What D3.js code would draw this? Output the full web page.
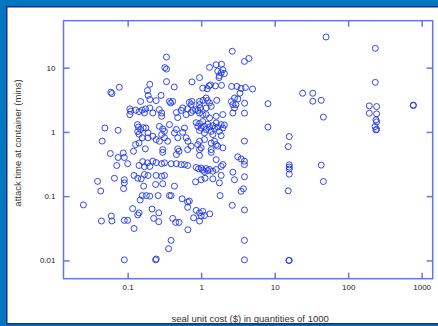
<!DOCTYPE html>
<html>
<head>
<meta charset="utf-8">
<script src="https://cdn.jsdelivr.net/npm/d3@7"></script>
<style>
  html, body { margin: 0; padding: 0; background: #0077be; }
  #chart { width: 438px; height: 326px; }
</style>
</head>
<body>
<div id="chart"></div>
<script>
const elem = "#chart"

const width = 438
const height = 326

// seal unit cost ($, quantities of 1000) and attack time (mins)
const sealCost = [
  2.65, 0.338, 3.88, 4.45, 0.32, 0.338, 1.30, 1.60, 1.89, 1.68, 1.87, 1.97, 1.77, 2.07, 1.75,
  0.338, 0.43, 0.75, 0.95, 1.28, 1.34, 1.21, 1.05, 1.56, 1.89, 2.6, 3.07, 3.5, 4.0, 5.0, 3.37,
  0.077, 0.059, 0.061, 0.2, 0.186, 0.19, 0.2, 0.285, 0.15, 0.244, 0.37, 0.385, 0.41, 0.75, 0.73,
  0.95, 1.06, 1.17, 1.22, 1.30, 1.37, 0.97, 0.95, 1.63, 2.58, 2.84, 2.7, 2.97, 3.15, 3.9, 3.88,
  2.7, 2.84, 0.107, 0.11, 0.107, 0.128, 0.143, 0.158, 0.175, 0.169, 0.2, 0.22, 0.27, 0.29, 0.29,
  0.46, 0.48, 0.535, 0.56, 0.625, 0.655, 0.73, 0.77, 0.84, 0.9, 0.95, 1.05, 1.17, 1.17, 1.3, 1.6,
  1.97, 0.049, 0.074, 0.136, 0.14, 0.15, 0.137, 0.163, 0.143, 0.177, 0.189, 0.27, 0.3, 0.317,
  0.29, 0.37, 0.46, 0.433, 0.593, 0.56, 0.48,
  0.855, 0.9, 0.95, 1.0, 1.05, 1.11, 1.17, 1.23, 1.30, 1.37, 1.44, 1.52, 1.6, 1.68, 1.77, 1.87,
  1.97, 2.07, 1.44, 1.11, 0.95, 1.87,
  0.045, 3.88, 0.625, 0.66, 0.95, 1.11, 1.37, 1.52, 1.6, 0.158, 0.189, 0.22, 0.244, 0.27, 0.317,
  0.35, 0.143, 0.128, 0.3, 0.48, 0.655, 0.9, 0.95, 1.37, 0.087, 0.12, 0.058, 0.074, 0.09, 0.174,
  0.3, 0.46, 0.5, 0.73, 1.0, 0.95, 1.37, 1.68, 1.97, 3.15, 3.5, 3.88, 3.88, 1.6, 1.97, 1.87,
  0.071, 0.1, 0.16, 0.186, 0.22, 0.244, 0.29, 0.317, 0.143, 0.169, 0.2, 0.39, 0.46, 0.535, 0.593,
  0.655, 0.855, 0.92, 1.0, 1.05, 1.17, 1.23, 1.3, 1.44, 1.6, 1.11, 2.7, 2.84,
  0.039, 0.043, 0.066, 0.09, 0.09, 0.088, 0.122, 0.137, 0.153, 0.169, 0.189, 0.244, 0.29, 0.317,
  0.165, 0.24, 0.3, 0.433, 0.158, 0.18, 0.2, 0.148, 0.26, 0.37, 0.39, 0.55, 0.69, 0.84, 1.0, 1.13,
  1.44, 1.87, 1.77, 1.81, 3.5, 3.76, 3.88, 2.65, 3.88,
  0.025, 0.044, 0.06, 0.061, 0.09, 0.1, 0.137, 0.122, 0.117, 0.143, 0.215, 0.265, 0.226, 0.265,
  0.41, 0.45, 0.5, 0.655, 0.655, 0.66, 0.79, 0.855, 0.95, 0.95, 1.0, 1.05, 1.11, 1.31,
  0.39, 0.36, 3.88, 0.09, 0.24, 0.245, 3.88, 0.69,
  50, 234, 234, 24, 33, 33, 43, 8.1, 46, 194, 244, 194, 244, 770, 770, 239, 244, 232, 244, 239,
  8.1, 15.8, 15.3, 15.8, 15.8, 15.8, 15.8, 43, 46, 15.3, 15.8, 15.6
]

const attackTime = [
  18, 14.6, 12.5, 13.9, 10.0, 9.5, 10.1, 11.1, 11.3, 8.8, 8.3, 9.3, 7.5, 8.1, 7.0,
  6.05, 5.0, 6.0, 7.0, 5.2, 5.4, 4.7, 4.8, 5.2, 5.3, 5.1, 5.1, 4.75, 4.9, 4.65, 4.0,
  4.95, 4.15, 3.95, 5.5, 4.4, 3.7, 3.2, 3.7, 2.98, 3.07, 2.98, 2.82, 2.98, 2.98, 2.66,
  2.98, 3.1, 3.37, 3.07, 2.82, 2.5, 2.36, 2.66, 3.1, 2.98, 3.37, 2.66, 2.66, 3.25, 2.8, 1.96,
  1.97, 2.36, 2.28, 2.09, 1.86, 2.18, 2.07, 2.18, 2.28, 1.97, 2.36, 1.97, 2.22, 1.97, 1.75,
  2.0, 1.67, 2.16, 2.36, 1.86, 2.28, 2.0, 2.16, 2.22, 2.16, 1.97, 1.86, 2.36, 1.86, 1.65, 1.75,
  1.86, 1.15, 1.06, 1.30, 1.19, 1.09, 1.01, 1.17, 0.92, 1.15, 0.965, 1.22, 1.11, 1.02,
  0.91, 1.30, 1.09, 0.965, 1.15, 0.985, 0.81,
  1.39, 1.22, 1.35, 1.15, 1.45, 1.22, 1.09, 1.32, 1.19, 1.02, 1.25, 1.13, 1.38, 1.19, 1.02, 1.30,
  1.15, 1.28, 0.91, 0.965, 1.05, 0.875,
  0.72, 0.72, 0.81, 0.715, 0.715, 0.76, 0.67, 0.715, 0.635, 0.81, 0.81, 0.855, 0.76, 0.715, 0.81,
  0.715, 0.67, 0.635, 0.53, 0.545, 0.53, 0.635, 0.53, 0.53, 0.47, 0.5, 0.46, 0.40, 0.40, 0.545,
  0.48, 0.444, 0.5, 0.6, 0.565, 0.43, 0.48, 0.6, 0.565, 0.41, 0.38, 0.35, 0.31, 0.37, 0.31, 0.29,
  0.3, 0.32, 0.345, 0.33, 0.35, 0.333, 0.32, 0.33, 0.3, 0.287, 0.29, 0.32, 0.32, 0.31, 0.31,
  0.3, 0.28, 0.266, 0.274, 0.255, 0.269, 0.25, 0.26, 0.244, 0.26, 0.24, 0.236, 0.18,
  0.17, 0.12, 0.19, 0.18, 0.161, 0.131, 0.21, 0.19, 0.186, 0.217, 0.21, 0.21, 0.204, 0.21,
  0.143, 0.152, 0.156, 0.143, 0.102, 0.102, 0.1, 0.087, 0.102, 0.102, 0.102, 0.091, 0.084, 0.167, 0.18, 0.19,
  0.186, 0.21, 0.161, 0.102, 0.119, 0.13, 0.061, 0.072, 0.2,
  0.073, 0.041, 0.049, 0.041, 0.042, 0.042, 0.051, 0.0314, 0.064, 0.055, 0.063, 0.055, 0.045, 0.04,
  0.045, 0.039, 0.039, 0.067, 0.081, 0.03, 0.046, 0.06, 0.055, 0.041, 0.049, 0.058, 0.05, 0.053,
  0.0205, 0.0152, 0.0205, 0.0102, 0.0102, 0.0105, 0.0102, 2.88,
  30, 20, 5.9, 4.0, 4.0, 3.0, 3.1, 2.75, 1.7, 2.54, 2.48, 1.95, 1.91, 2.57, 2.62, 1.54, 1.43, 1.21, 1.10, 1.07,
  1.19, 0.845, 0.59, 0.307, 0.283, 0.264, 0.22, 0.304, 0.169, 0.121, 0.01, 0.01
]

const xTicks = [0.1, 1, 10, 100, 1000]
const xTickLabels = ["0.1", "1", "10", "100", "1000"]
const yTicks = [0.01, 0.1, 1, 10]
const yTickLabels = ["0.01", "0.1", "1", "10"]

const xTitle = "seal unit cost ($) in quantities of 1000"
const yTitle = "attack time at container (mins)"

const points = sealCost.map((c, i) => ({ cost: c, time: attackTime[i] }))

const plot = { left: 63.5, right: 432.7, top: 20.7, bottom: 278.7 }

const x = d3.scaleLog()
  .domain([0.01340, 1413])
  .range([plot.left, plot.right])

const y = d3.scaleLog()
  .domain([0.00519, 53.8])
  .range([plot.bottom, plot.top])

const svg = d3.select(elem)
  .append("svg")
  .attr("width", width)
  .attr("height", height)
  .attr("viewBox", [0, 0, width, height])
  .style("display", "block")
  .style("font-family", "'Liberation Sans', Arial, sans-serif");

// blue page, white panel with dark edge
svg.append("rect")
  .attr("width", width)
  .attr("height", height)
  .attr("fill", "#0077be");

svg.append("rect")
  .attr("x", 6.75)
  .attr("y", 6.75)
  .attr("width", width)
  .attr("height", 317)
  .attr("fill", "#fff")
  .attr("stroke", "#1c2b8c")
  .attr("stroke-width", 1.5);

const frameColor = "#6474ee"
const tick = 6

function styleAxis(g) {
  g.select(".domain").remove();
  g.selectAll(".tick line").attr("stroke", frameColor).attr("stroke-width", 1.5);
  g.selectAll(".tick text").attr("fill", "#222").attr("font-size", 8);
}

svg.append("g")
  .attr("transform", `translate(0,${plot.bottom})`)
  .call(d3.axisBottom(x).tickValues(xTicks).tickSize(-tick).tickPadding(6)
    .tickFormat((d, i) => xTickLabels[i]))
  .call(styleAxis)
  .attr("font-family", null);

svg.append("g")
  .attr("transform", `translate(0,${plot.top})`)
  .call(d3.axisTop(x).tickValues(xTicks).tickSize(-tick).tickFormat(""))
  .call(styleAxis);

svg.append("g")
  .attr("transform", `translate(${plot.left},0)`)
  .call(d3.axisLeft(y).tickValues(yTicks).tickSize(-tick).tickPadding(8)
    .tickFormat((d, i) => yTickLabels[i]))
  .call(styleAxis)
  .attr("font-family", null);

svg.append("g")
  .attr("transform", `translate(${plot.right},0)`)
  .call(d3.axisRight(y).tickValues(yTicks).tickSize(-tick).tickFormat(""))
  .call(styleAxis);

svg.selectAll(".tick text").attr("font-family", "'Liberation Sans', Arial, sans-serif");

svg.append("rect")
  .attr("x", plot.left)
  .attr("y", plot.top)
  .attr("width", plot.right - plot.left)
  .attr("height", plot.bottom - plot.top)
  .attr("fill", "none")
  .attr("stroke", frameColor)
  .attr("stroke-width", 1.5);

svg.append("g")
  .attr("fill", "none")
  .attr("stroke", "#1d35e8")
  .attr("stroke-width", 1)
  .attr("stroke-opacity", 0.9)
  .selectAll("circle")
  .data(points)
  .join("circle")
  .attr("cx", d => x(d.cost))
  .attr("cy", d => y(d.time))
  .attr("r", 3);

svg.append("text")
  .attr("x", (plot.left + plot.right) / 2 + 2)
  .attr("y", 321.5)
  .attr("text-anchor", "middle")
  .attr("font-size", 9.5)
  .attr("fill", "#333")
  .text(xTitle);

svg.append("text")
  .attr("transform", `translate(20.5,143) rotate(-90)`)
  .attr("text-anchor", "middle")
  .attr("font-size", 9.5)
  .attr("fill", "#333")
  .text(yTitle);

const chart = svg.node();
</script>
</body>
</html>
